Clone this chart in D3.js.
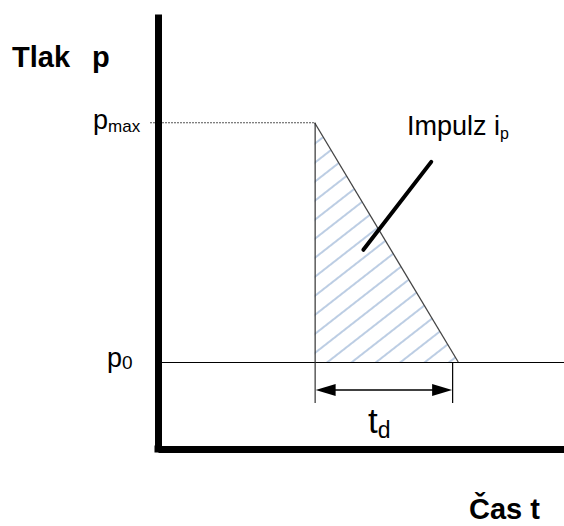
<!DOCTYPE html>
<html>
<head>
<meta charset="utf-8">
<script src="https://cdn.jsdelivr.net/npm/d3@7"></script>
<style>
  body { margin: 0; background: #fff; }
  text { font-family: "Liberation Sans", Arial, sans-serif; fill: #000; }
</style>
</head>
<body>
<div id="chart"></div>
<script>
// pressure levels (p0 = ambient, pmax = peak)
var pressureNames = ["p0", "pmax"];
var pressureValues = [1, 3.75];

// pulse: starts at peak, decays linearly to ambient
var pulseTimes = [1.8, 3.45];
var pulsePressures = [3.75, 1];

// positive phase duration marker t_d
var tdTimes = [1.8, 3.38];

// impulse leader line (time, pressure)
var leaderTimes = [2.36, 3.14];
var leaderPressures = [2.29, 3.30];

var width = 564, height = 526;

var svg = d3.select("#chart").append("svg")
    .attr("width", width)
    .attr("height", height);

// Set up the scales
var x = d3.scaleLinear().domain([0, 4.7]).range([158, 567]);
var y = d3.scaleLinear().domain([0, 5]).range([449, 14]);

// hatch pattern
var defs = svg.append("defs");
var pat = defs.append("pattern")
    .attr("id", "hatch")
    .attr("patternUnits", "userSpaceOnUse")
    .attr("width", 15)
    .attr("height", 15)
    .attr("patternTransform", "rotate(-38)");
pat.append("line")
    .attr("x1", 0).attr("y1", 7).attr("x2", 15).attr("y2", 7)
    .attr("stroke", "#7a9cc8")
    .attr("stroke-width", 1);

// triangle area
var pulse = pulseTimes.map((t, i) => ({ t: t, p: pulsePressures[i] }));
var area = [
    [x(pulse[0].t), y(pulse[0].p)],
    [x(pulse[1].t), y(pulse[1].p)],
    [x(pulse[0].t), y(pulse[1].p)]
];
svg.append("path")
    .attr("d", "M" + area.join("L") + "Z")
    .attr("fill", "url(#hatch)")
    .attr("stroke", "none");

// pmax dotted guide
svg.append("line")
    .attr("x1", x(0) - 8).attr("x2", x(pulse[0].t))
    .attr("y1", y(pressureValues[1])).attr("y2", y(pressureValues[1]))
    .attr("stroke", "#555")
    .attr("stroke-width", 1)
    .attr("stroke-dasharray", "2,1");

// p0 line
svg.append("line")
    .attr("x1", x(0)).attr("x2", width)
    .attr("y1", y(pressureValues[0]) + 0.5).attr("y2", y(pressureValues[0]) + 0.5)
    .attr("stroke", "#000")
    .attr("stroke-width", 1);

// hypotenuse
svg.append("line")
    .attr("x1", x(pulse[0].t)).attr("y1", y(pulse[0].p))
    .attr("x2", x(pulse[1].t)).attr("y2", y(pulse[1].p))
    .attr("stroke", "#444")
    .attr("stroke-width", 1.3);

// t_d ticks
var tickBottom = y(pressureValues[0]) + 41;
tdTimes.forEach((t, i) => {
    svg.append("line")
        .attr("x1", x(t) + 0.5).attr("x2", x(t) + 0.5)
        .attr("y1", i == 0 ? y(pulse[0].p) : y(pressureValues[0]))
        .attr("y2", tickBottom)
        .attr("stroke", i == 0 ? "#333" : "#000")
        .attr("stroke-width", 1.2);
});

// double arrow
var ay = y(pressureValues[0]) + 28;
var x0 = x(tdTimes[0]) + 1, x1 = x(tdTimes[1]);
svg.append("line")
    .attr("x1", x0 + 15).attr("x2", x1 - 15)
    .attr("y1", ay).attr("y2", ay)
    .attr("stroke", "#000")
    .attr("stroke-width", 1.5);
svg.append("path")
    .attr("d", "M" + x0 + "," + ay + "L" + (x0 + 20) + "," + (ay - 6) + "L" + (x0 + 20) + "," + (ay + 6) + "Z")
    .attr("fill", "#000");
svg.append("path")
    .attr("d", "M" + x1 + "," + ay + "L" + (x1 - 20) + "," + (ay - 6) + "L" + (x1 - 20) + "," + (ay + 6) + "Z")
    .attr("fill", "#000");

// leader line for impulse
svg.append("line")
    .attr("x1", x(leaderTimes[0])).attr("y1", y(leaderPressures[0]))
    .attr("x2", x(leaderTimes[1])).attr("y2", y(leaderPressures[1]))
    .attr("stroke", "#000")
    .attr("stroke-width", 4)
    .attr("stroke-linecap", "round");

// Axes: thick domain lines, no ticks
var yAxis = svg.append("g")
    .attr("transform", "translate(" + x(0) + ",0)")
    .call(d3.axisLeft(y).tickValues([]).tickSizeOuter(0));
var xAxis = svg.append("g")
    .attr("transform", "translate(0," + y(0) + ")")
    .call(d3.axisBottom(x).tickValues([]).tickSizeOuter(0));
svg.selectAll(".domain")
    .attr("stroke", "#000")
    .attr("stroke-width", 7);
// square off the corner
svg.append("rect")
    .attr("x", x(0) - 3.5).attr("y", y(0) - 3.5)
    .attr("width", 7).attr("height", 7)
    .attr("fill", "#000");

// Labels
svg.append("text")
    .attr("x", 12).attr("y", 67)
    .style("font-size", "29px").style("font-weight", "bold")
    .text("Tlak");
svg.append("text")
    .attr("x", 92).attr("y", 67)
    .style("font-size", "29px").style("font-weight", "bold")
    .text("p");

var pmaxLabel = svg.append("text")
    .attr("x", 93).attr("y", y(pressureValues[1]) + 6)
    .style("font-size", "27px");
pmaxLabel.append("tspan").text("p");
pmaxLabel.append("tspan").attr("dy", 3).style("font-size", "17px").text("max");

var p0Label = svg.append("text")
    .attr("x", 107).attr("y", y(pressureValues[0]) + 5)
    .style("font-size", "27px");
p0Label.append("tspan").text("p");
p0Label.append("tspan").attr("dy", 2).style("font-size", "19px").text("0");

var imp = svg.append("text")
    .attr("x", 407).attr("y", 135)
    .style("font-size", "27px");
imp.append("tspan").text("Impulz i");
imp.append("tspan").attr("dy", 4).style("font-size", "16px").text("p");

var td = svg.append("text")
    .attr("x", 368).attr("y", 433)
    .style("font-size", "35px");
td.append("tspan").text("t");
td.append("tspan").attr("dy", 5).style("font-size", "23px").text("d");

svg.append("text")
    .attr("x", 469).attr("y", 519)
    .style("font-size", "29px").style("font-weight", "bold")
    .text("Čas t");
</script>
</body>
</html>
